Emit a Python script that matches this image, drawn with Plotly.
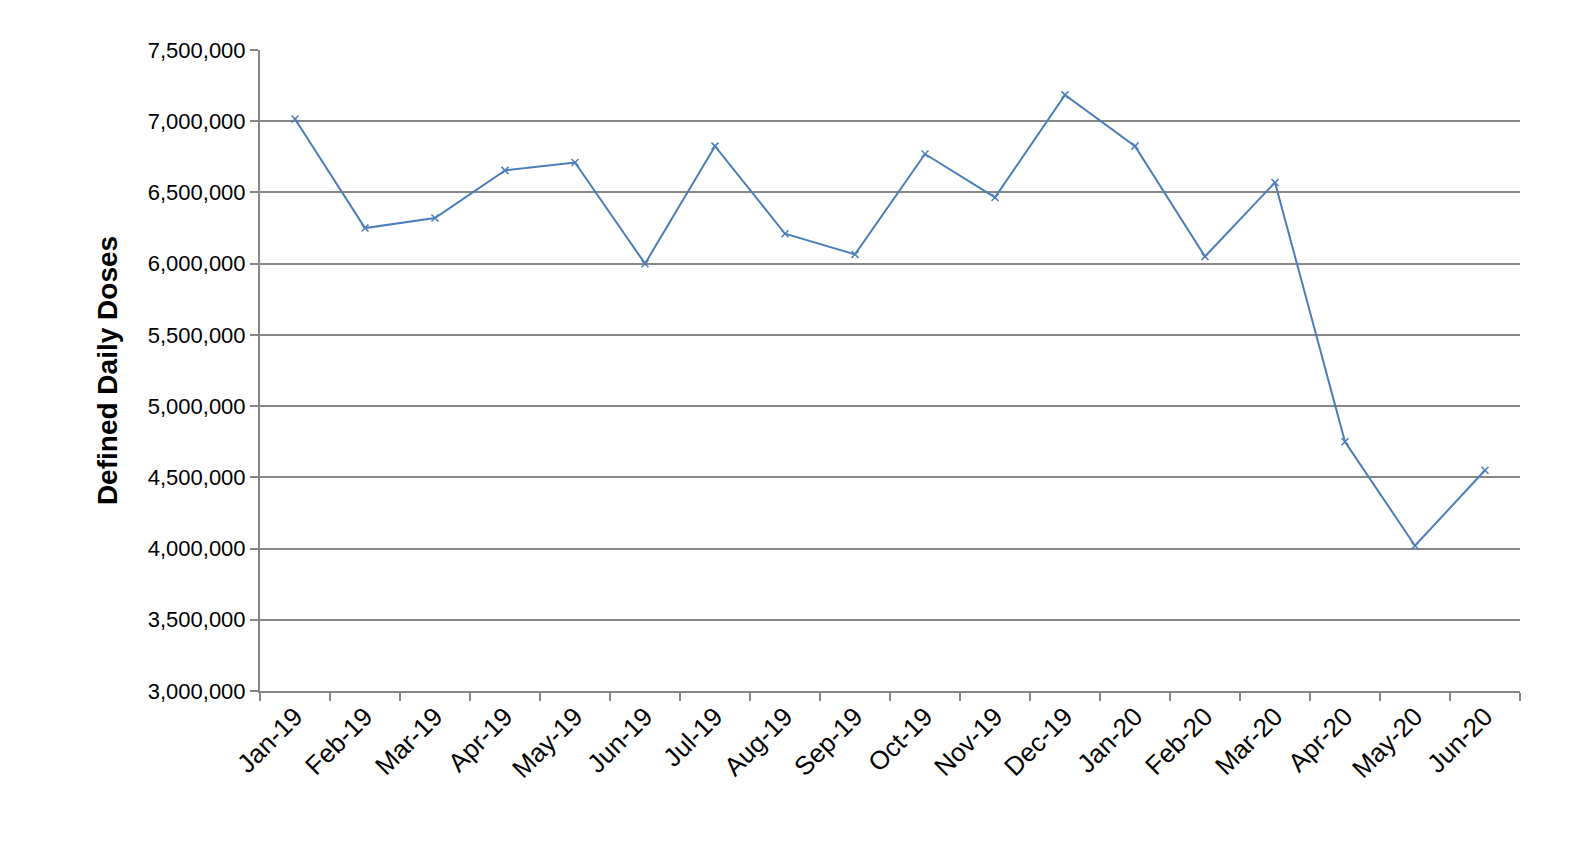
import plotly.graph_objects as go

months = ["Jan-19","Feb-19","Mar-19","Apr-19","May-19","Jun-19","Jul-19","Aug-19","Sep-19",
          "Oct-19","Nov-19","Dec-19","Jan-20","Feb-20","Mar-20","Apr-20","May-20","Jun-20"]
ddd = [7016000,6250000,6320000,6655000,6710000,6000000,6825000,6210000,6065000,
       6770000,6465000,7185000,6825000,6050000,6570000,4750000,4020000,4550000]

x = list(range(len(months)))
bounds = [i - 0.5 for i in range(len(months) + 1)]
rng = [-0.5, len(months) - 0.5]

fig = go.Figure(go.Scatter(x=x, y=ddd, mode="lines+markers",
    line=dict(color="#4a7ebb", width=2),
    marker=dict(symbol="x-thin", size=7, color="#4a7ebb", line=dict(width=1.5, color="#4a7ebb"))))

fig.update_layout(width=1591, height=854, autosize=False, margin=dict(l=252, r=79, t=42, b=171),
    plot_bgcolor="white", paper_bgcolor="white", showlegend=False,
    font=dict(family="Liberation Sans, Arial", size=22, color="black"),
    xaxis=dict(range=rng, tickvals=bounds, ticktext=[""] * len(bounds), ticks="outside",
               ticklen=8, tickcolor="#868686", tickwidth=2, showgrid=False, zeroline=False,
               showline=True, linecolor="#868686", linewidth=2),
    xaxis2=dict(range=rng, overlaying="x", side="bottom", anchor="y", tickvals=x, ticktext=months,
                tickangle=-45, ticks="", showgrid=False, zeroline=False, showline=False,
                tickfont=dict(size=26), ticklabelstandoff=4),
    yaxis=dict(range=[3000000, 7500000], dtick=500000, tickformat=",d", zeroline=False,
               showgrid=True, gridcolor="#868686", gridwidth=2, showline=True, linecolor="#868686",
               linewidth=2, ticks="outside", ticklen=8, tickcolor="#868686", tickwidth=2,
               tickfont=dict(size=22),
               title=dict(text="<b>Defined Daily Doses</b>", font=dict(size=28), standoff=22)))
fig.add_trace(go.Scatter(x=[0], y=[None], xaxis="x2", showlegend=False, hoverinfo="skip"))
fig.write_html("out.html")
